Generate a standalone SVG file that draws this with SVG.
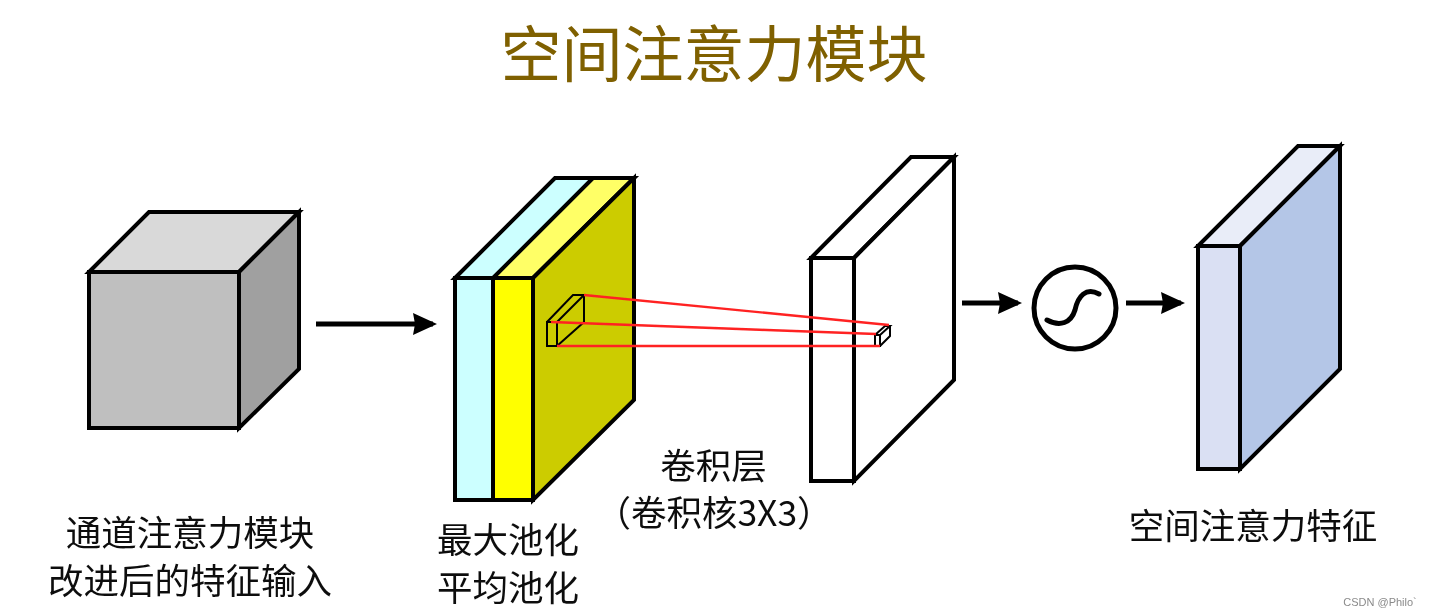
<svg xmlns="http://www.w3.org/2000/svg" width="1431" height="616" viewBox="0 0 1431 616">
<style>
text{font-family:"Noto Sans CJK SC","Noto Sans",sans-serif;fill:#111;font-size:35.5px;text-anchor:middle}
.title{font-size:61px;fill:#7f6000}
.wm{font-family:"Liberation Sans",sans-serif;font-size:11px;fill:#8a8a8a}
.s{stroke:#000;stroke-width:4;stroke-linejoin:miter}
.t{stroke:#000;stroke-width:2;fill:none}
.r{stroke:#f22;stroke-width:2.4;fill:none}
.c{stroke:#000;stroke-width:5;fill:none}
</style>
<defs>
<marker id="a" markerUnits="userSpaceOnUse" markerWidth="26" markerHeight="26" refX="20" refY="12" orient="auto"><path d="M0 1L24 12L0 23L2 12Z" fill="#000"/></marker>
<filter id="soft" x="0" y="0" width="100%" height="100%"><feGaussianBlur stdDeviation="0.6"/></filter>
</defs>
<rect width="1431" height="616" fill="#fff"/>
<g filter="url(#soft)">
<text class="title" x="714" y="77">空间注意力模块</text>
<g id="input-cube">
<path class="s" fill="#d9d9d9" d="M89 272L149 212H299L239 272Z"/>
<path class="s" fill="#a0a0a0" d="M239 272L299 212V369L239 428Z"/>
<rect class="s" fill="#bfbfbf" x="89" y="272" width="150" height="156"/>
<text x="190" y="546">通道注意力模块</text>
<text x="190" y="594">改进后的特征输入</text>
</g>
<g id="pooling">
<path class="s" fill="#ccffff" d="M455 278L555 178H634L533 278Z"/>
<path class="s" fill="#ffff66" d="M493 278L593 178H634L533 278Z"/>
<path class="s" fill="#cccc00" d="M533 278L634 178V400L533 500Z"/>
<rect class="s" fill="#ccffff" x="455" y="278" width="38" height="222"/>
<rect class="s" fill="#ffff00" x="493" y="278" width="40" height="222"/>
<path class="t" d="M547 322H557V346H547ZM547 322L573 295H584L557 322M584 295V322L557 346"/>
<text x="508" y="553">最大池化</text>
<text x="508" y="601">平均池化</text>
</g>
<g id="conv-layer">
<path class="s" fill="#fff" d="M811 258L911 157H954L854 258Z"/>
<path class="s" fill="#fff" d="M854 258L954 157V380L854 481Z"/>
<rect class="s" fill="#fff" x="811" y="258" width="43" height="223"/>
<path class="t" d="M875 335H880V346H875ZM875 335L885 326H890L880 335M890 326V336L880 346"/>
<text x="713.500" y="479">卷积层</text>
<text x="714" y="526">（卷积核3X3）</text>
</g>
<g id="sigmoid">
<circle cx="1075" cy="308" r="41" fill="#fff" stroke="#000" stroke-width="5"/>
<path class="c" stroke-linecap="round" d="M1047 320C1060 327 1071 323 1075 310C1078 296 1086 287 1099 294"/>
</g>
<g id="spatial-feature">
<path class="s" fill="#e9edf8" d="M1198 246L1298 146H1340L1240 246Z"/>
<path class="s" fill="#b4c6e7" d="M1240 246L1340 146V369L1240 469Z"/>
<rect class="s" fill="#dae0f3" x="1198" y="246" width="42" height="223"/>
<text x="1253" y="539">空间注意力特征</text>
</g>
<g id="connectors">
<path class="c" marker-end="url(#a)" d="M316 324H433"/>
<path class="c" marker-end="url(#a)" d="M962 303H1018"/>
<path class="c" marker-end="url(#a)" d="M1126 303H1181"/>
<path class="r" d="M584 295L889 325M551 322L876 334M557 346L880 346"/>
</g>
<text class="wm" x="1380" y="606">CSDN @Philo`</text>
</g>
</svg>
